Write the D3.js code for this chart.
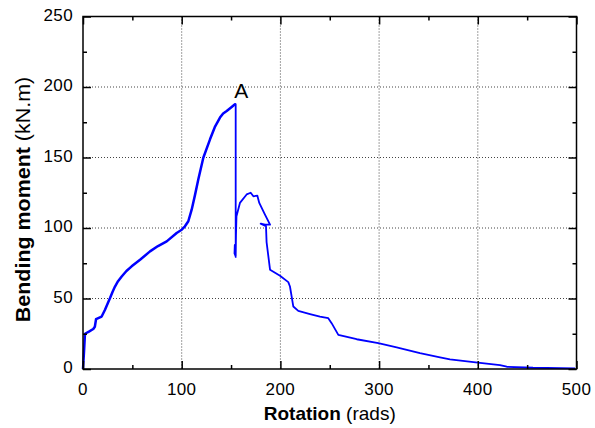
<!DOCTYPE html>
<html><head><meta charset="utf-8">
<script src="https://cdn.jsdelivr.net/npm/d3@7"></script>
<style>body{margin:0;background:#fff}svg{display:block;font-family:"Liberation Sans",Arial,sans-serif}</style>
</head><body><svg id="c" width="595" height="428"></svg>
<script>
const rotation = [0,1,2,6,10.4,12,13.2,18.9,22.3,25,27.4,30,32.4,35.5,39.2,44,49.3,57.8,67.9,76,84.8,94.9,100,103.3,106.7,110.1,113.5,116.8,121.9,128.7,133.5,138.8,142,145.6,150,154,154.7,154.7,153.5,153.8,154.7,155,155.5,159,165.8,169.9,172.6,176.6,178.6,184,189.5,184.4,180,185.4,186,189.5,199.6,208,209.7,213.1,218.1,230,240.1,248.5,251.9,258.7,277.3,299.2,317.8,341.4,361.7,371.8,400,422.5,429.3,456,498.5];
const moment   = [0,12,25,26.5,28.4,30,35.3,37.2,42,46.5,50.3,54.8,58.5,62.3,65.6,69.5,72.8,77.5,83.4,87.2,90.5,96.5,98.8,101.2,104.8,113,123.5,134.4,149.8,162.9,171.5,178.3,181.2,183,185.5,187.8,187.8,79.9,82,88,79.5,95,108.3,117.8,123.8,125,122.5,123,117.8,110,102.4,102.4,103.1,101.2,90,70.4,66.1,61.6,58.5,44.3,41.2,39,37.2,36,32.5,24.2,21.1,18.3,15.4,11.2,8.3,6.9,4.5,2.8,1.6,0.9,0.5];
const xMajor = [0,100,200,300,400,500];
const yMajor = [0,50,100,150,200,250];
const xMinor = [50,150,250,350,450];
const yMinor = [25,75,125,175,225];
const peakLabel = "A";

const svg = d3.select("#c");
const L=83,R=576.5,T=16.5,B=369;
const x = d3.scaleLinear().domain([0,500]).range([L,R]);
const y = d3.scaleLinear().domain([0,250]).range([B,T]);

// grid
svg.append("g").selectAll("line").data(xMajor.slice(1,-1)).join("line")
  .attr("x1",d=>x(d)).attr("x2",d=>x(d)).attr("y1",T).attr("y2",B)
  .attr("stroke","#444").attr("stroke-width",1).attr("stroke-dasharray","1,2");
svg.append("g").selectAll("line").data(yMajor.slice(1,-1)).join("line")
  .attr("y1",d=>y(d)).attr("y2",d=>y(d)).attr("x1",L).attr("x2",R)
  .attr("stroke","#444").attr("stroke-width",1).attr("stroke-dasharray","1,2");

// curve: thicker before the drop at A, thinner after
const pts = rotation.map((r,i)=>[r,moment[i]]);
const line = d3.line().x(d=>x(d[0])).y(d=>y(d[1]));
const split = 37;
svg.append("path").datum(pts.slice(0,split))
  .attr("d",line).attr("fill","none").attr("stroke","#0000ff").attr("stroke-width",2.5).attr("stroke-linejoin","round");
svg.append("path").datum(pts.slice(split-2))
  .attr("d",line).attr("fill","none").attr("stroke","#0000ff").attr("stroke-width",1.8).attr("stroke-linejoin","round");

// axes with inward ticks
function ax(gen, tr, vals, size){
  svg.append("g").attr("transform",tr).call(gen.tickValues(vals).tickSize(size).tickFormat("")).call(g=>{g.select(".domain").remove();g.selectAll("line").attr("stroke","#000").attr("stroke-width",1.5);});
}
ax(d3.axisBottom(x),`translate(0,${B})`,xMajor,-8); ax(d3.axisBottom(x),`translate(0,${B})`,xMinor,-4);
ax(d3.axisTop(x),`translate(0,${T})`,xMajor,-8); ax(d3.axisTop(x),`translate(0,${T})`,xMinor,-4);
ax(d3.axisLeft(y),`translate(${L},0)`,yMajor,-8); ax(d3.axisLeft(y),`translate(${L},0)`,yMinor,-4);
ax(d3.axisRight(y),`translate(${R},0)`,yMajor,-8); ax(d3.axisRight(y),`translate(${R},0)`,yMinor,-4);

svg.append("rect").attr("x",L).attr("y",T).attr("width",R-L).attr("height",B-T)
  .attr("fill","none").attr("stroke","#000").attr("stroke-width",1.5);

// tick labels
svg.append("g").selectAll("text").data(xMajor).join("text")
  .attr("x",d=>x(d)).attr("y",B+26).attr("text-anchor","middle").attr("font-size",17).attr("letter-spacing",0.4).text(d=>d);
svg.append("g").selectAll("text").data(yMajor).join("text")
  .attr("x",L-10).attr("y",d=>y(d)+4).attr("text-anchor","end").attr("font-size",17).attr("letter-spacing",0.4).text(d=>d);

// axis titles
const xt = svg.append("text").attr("x",(L+R)/2).attr("y",420).attr("text-anchor","middle").attr("font-size",19);
xt.append("tspan").attr("font-weight","bold").text("Rotation");
xt.append("tspan").text(" (rads)");
const yt = svg.append("text").attr("transform",`translate(30,199.5) rotate(-90) scale(1.1,1)`).attr("text-anchor","middle").attr("font-size",19.5);
yt.append("tspan").attr("font-weight","bold").text("Bending moment");
yt.append("tspan").text(" (kN.m)");

svg.append("text").attr("x",x(160.4)).attr("y",97.7).attr("text-anchor","middle").attr("font-size",21).text(peakLabel);
</script></body></html>
